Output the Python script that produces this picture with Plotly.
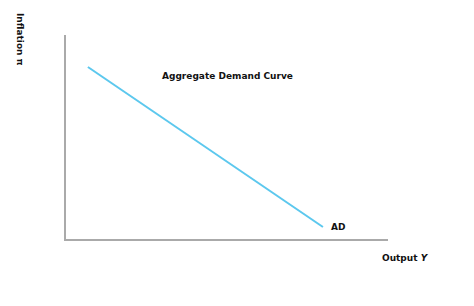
import plotly.graph_objects as go

ad_x = [0.68, 7.98]
ad_y = [8.43, 0.59]
x_range = [0, 10]
y_range = [0, 10]

fig = go.Figure()
fig.add_trace(go.Scatter(x=ad_x, y=ad_y, mode="lines",
                         line=dict(color="#5cc8ee", width=2), showlegend=False,
                         hoverinfo="skip"))

font = dict(family="DejaVu Sans", size=9, color="#111")
fig.add_annotation(x=ad_x[1], y=ad_y[1], text="<b>AD</b>", showarrow=False,
                   xanchor="left", yanchor="middle", xshift=6, font=font)
fig.add_annotation(x=5, y=8.0, text="<b>Aggregate Demand Curve</b>", showarrow=False,
                   xanchor="center", yanchor="middle", font=font)
fig.add_annotation(x=(405-66)/322, y=(239-258)/204, xref="paper", yref="paper",
                   text="<b>Output <i>Y</i></b>", showarrow=False,
                   xanchor="center", yanchor="middle", font=font)
fig.add_annotation(x=(20-66)/322, y=(239-39)/204, xref="paper", yref="paper",
                   text="<b>Inflation π</b>", showarrow=False, textangle=90,
                   xanchor="center", yanchor="middle", font=font)

fig.update_xaxes(range=x_range, showgrid=False, zeroline=False, showticklabels=False,
                 ticks="", showline=True, linecolor="#aaaaaa", linewidth=2)
fig.update_yaxes(range=y_range, showgrid=False, zeroline=False, showticklabels=False,
                 ticks="", showline=True, linecolor="#aaaaaa", linewidth=2)
fig.update_layout(width=474, height=306, margin=dict(l=66, r=86, t=35, b=67),
                  paper_bgcolor="white", plot_bgcolor="white")
fig.write_html("out.html")
